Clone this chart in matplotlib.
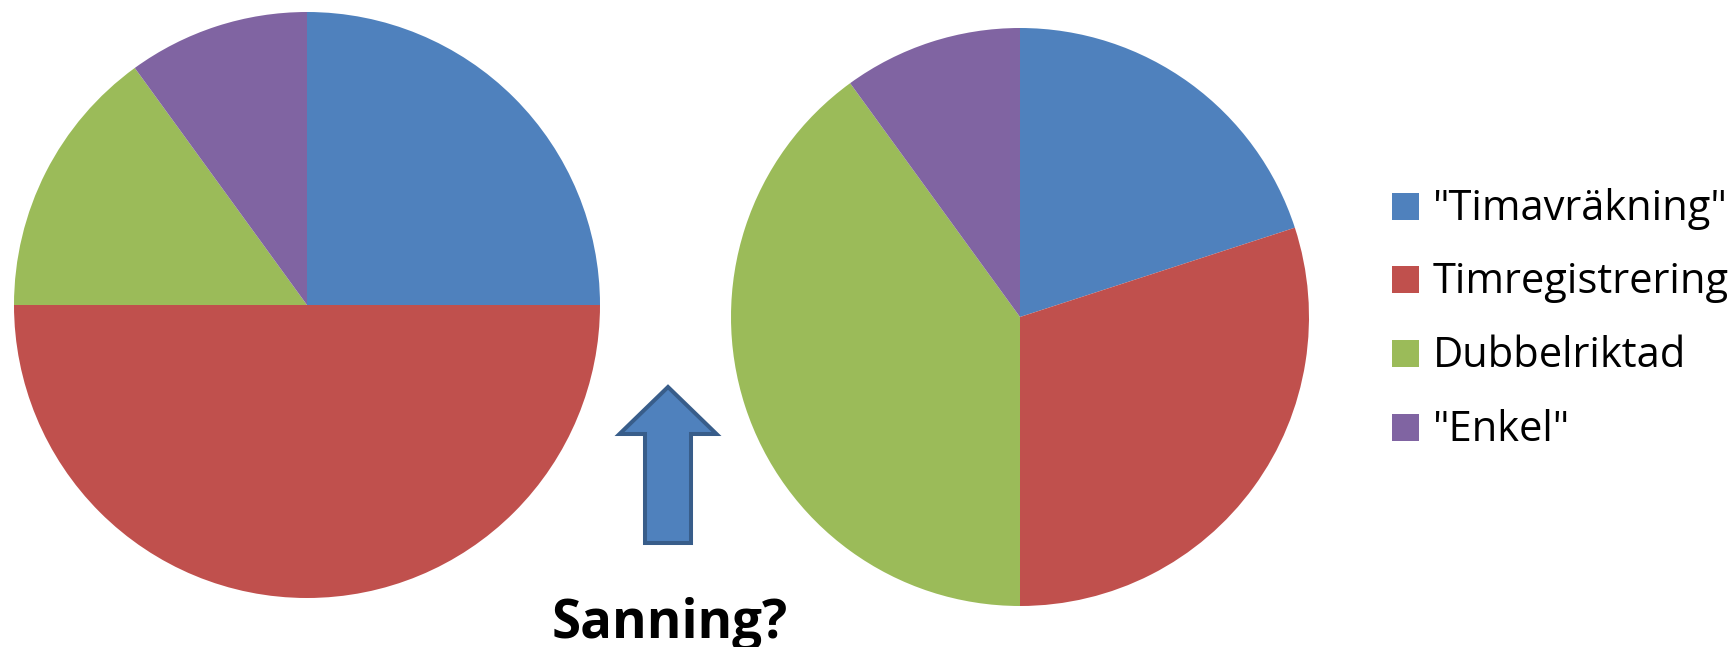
import matplotlib
matplotlib.use("Agg")
import matplotlib.pyplot as plt
from matplotlib.patches import Rectangle, FancyArrow

# Data
labels = ['"Timavräkning"', 'Timregistrering', 'Dubbelriktad', '"Enkel"']
values_left = [25, 50, 15, 10]
values_right = [20, 30, 40, 10]
colors = ['#4F81BD', '#C0504D', '#9BBB59', '#8064A2']
question = 'Sanning?'

W, H = 1736, 647
fig = plt.figure(figsize=(W / 100, H / 100), dpi=100)
ax = fig.add_axes([0, 0, 1, 1])

# pies, positioned in pixel coordinates (y measured from bottom)
for vals, center, r in [(values_left, (307, H - 305), 293),
                        (values_right, (1020, H - 317), 289)]:
    ax.pie(vals, colors=colors, startangle=90, counterclock=False,
           center=center, radius=r, wedgeprops=dict(linewidth=0))

# arrow between the pies
ax.add_patch(FancyArrow(668, H - 543, 0, 543 - 387, width=46, head_width=97,
                        head_length=47, length_includes_head=True,
                        facecolor='#4F81BD', edgecolor='#385D8A', linewidth=2.9,
                        joinstyle='miter'))

ax.text(670, H - 638, question, ha='center', va='baseline',
        fontsize=38, fontweight='bold', family='Open Sans', color='black')

# legend drawn by hand
row_y = [206, 279, 353, 427]
for lab, col, y in zip(labels, colors, row_y):
    ax.add_patch(Rectangle((1392, H - y - 13.5), 27, 27, facecolor=col, edgecolor='none'))
    ax.text(1433, H - y - 14, lab, ha='left', va='baseline', fontsize=30,
            family='Open Sans', color='black')

ax.set_xlim(0, W)
ax.set_ylim(0, H)
ax.set_aspect('auto')
ax.axis('off')

fig.savefig('out.png', dpi=100, facecolor='white')
